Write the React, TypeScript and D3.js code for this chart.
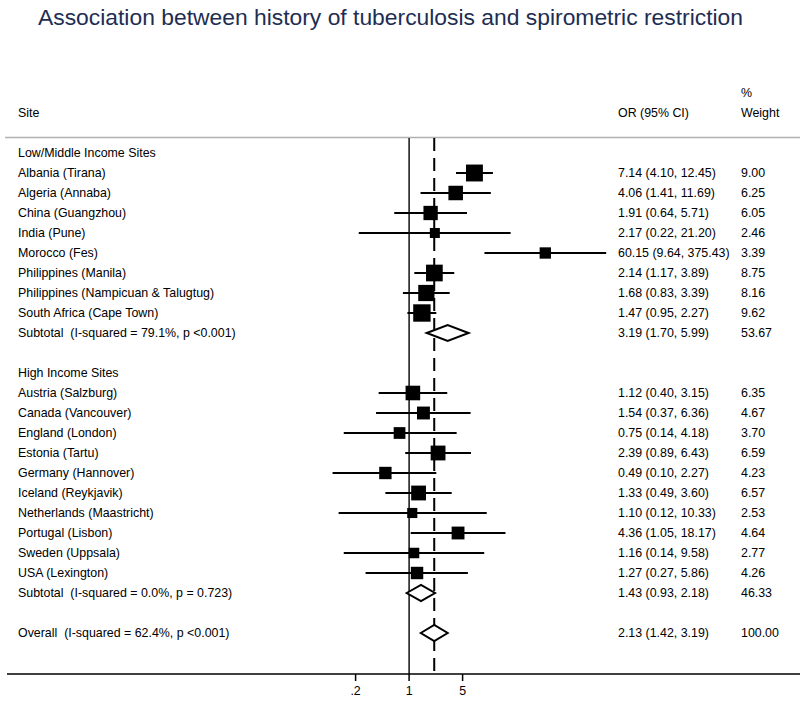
import React from "react";
import * as d3 from "d3";

const lowSites = [
  "Albania (Tirana)",
  "Algeria (Annaba)",
  "China (Guangzhou)",
  "India (Pune)",
  "Morocco (Fes)",
  "Philippines (Manila)",
  "Philippines (Nampicuan & Talugtug)",
  "South Africa (Cape Town)",
];
const lowOR = [7.14, 4.06, 1.91, 2.17, 60.15, 2.14, 1.68, 1.47];
const lowLo = [4.1, 1.41, 0.64, 0.22, 9.64, 1.17, 0.83, 0.95];
const lowHi = [12.45, 11.69, 5.71, 21.2, 375.43, 3.89, 3.39, 2.27];
const lowW = [9.0, 6.25, 6.05, 2.46, 3.39, 8.75, 8.16, 9.62];

const highSites = [
  "Austria (Salzburg)",
  "Canada (Vancouver)",
  "England (London)",
  "Estonia (Tartu)",
  "Germany (Hannover)",
  "Iceland (Reykjavik)",
  "Netherlands (Maastricht)",
  "Portugal (Lisbon)",
  "Sweden (Uppsala)",
  "USA (Lexington)",
];
const highOR = [1.12, 1.54, 0.75, 2.39, 0.49, 1.33, 1.1, 4.36, 1.16, 1.27];
const highLo = [0.4, 0.37, 0.14, 0.89, 0.1, 0.49, 0.12, 1.05, 0.14, 0.27];
const highHi = [3.15, 6.36, 4.18, 6.43, 2.27, 3.6, 10.33, 18.17, 9.58, 5.86];
const highW = [6.35, 4.67, 3.7, 6.59, 4.23, 6.57, 2.53, 4.64, 2.77, 4.26];

const summaryLabels = [
  "Subtotal  (I-squared = 79.1%, p <0.001)",
  "Subtotal  (I-squared = 0.0%, p = 0.723)",
  "Overall  (I-squared = 62.4%, p <0.001)",
];
const summaryOR = [3.19, 1.43, 2.13];
const summaryLo = [1.7, 0.93, 1.42];
const summaryHi = [5.99, 2.18, 3.19];
const summaryW = [53.67, 46.33, 100.0];

const tickValues = [0.2, 1, 5];
const tickLabels = [".2", "1", "5"];

type Row =
  | { kind: "header"; label: string }
  | { kind: "study"; label: string; or: number; lo: number; hi: number; w: number }
  | { kind: "summary"; label: string; or: number; lo: number; hi: number; w: number }
  | { kind: "blank" };

const rows: Row[] = [];
rows.push({ kind: "header", label: "Low/Middle Income Sites" });
lowSites.forEach((s, i) =>
  rows.push({ kind: "study", label: s, or: lowOR[i], lo: lowLo[i], hi: lowHi[i], w: lowW[i] })
);
rows.push({ kind: "summary", label: summaryLabels[0], or: summaryOR[0], lo: summaryLo[0], hi: summaryHi[0], w: summaryW[0] });
rows.push({ kind: "blank" });
rows.push({ kind: "header", label: "High Income Sites" });
highSites.forEach((s, i) =>
  rows.push({ kind: "study", label: s, or: highOR[i], lo: highLo[i], hi: highHi[i], w: highW[i] })
);
rows.push({ kind: "summary", label: summaryLabels[1], or: summaryOR[1], lo: summaryLo[1], hi: summaryHi[1], w: summaryW[1] });
rows.push({ kind: "blank" });
rows.push({ kind: "summary", label: summaryLabels[2], or: summaryOR[2], lo: summaryLo[2], hi: summaryHi[2], w: summaryW[2] });

const fmt = d3.format(".2f");

export default function App() {
  const W = 800;
  const H = 705;
  const x = d3.scaleLog().domain([0.2, 5]).range([355.6, 462.6]);
  const y = d3
    .scaleLinear()
    .domain([0, rows.length - 1])
    .range([153, 153 + 20 * (rows.length - 1)]);
  const plotTop = 138;
  const axisY = 674;
  const font = "Liberation Sans, Arial, Helvetica, sans-serif";
  const fs = 12.4;
  const overall = summaryOR[2];
  const boxSide = (w: number) => 4.8 * Math.sqrt(w) + 2.5;
  const pre = { whiteSpace: "pre" as const };

  return (
    <svg
      width={W}
      height={H}
      style={{ position: "absolute", left: 0, top: 0, display: "block", background: "#fff" }}
      fontFamily={font}
    >
      <rect x={0} y={0} width={W} height={H} fill="#fff" />
      <text
        x={38}
        y={25}
        fontSize={22.5}
        fill="#1e2d52"
        textLength={705}
        lengthAdjust="spacingAndGlyphs"
      >
        Association between history of tuberculosis and spirometric restriction
      </text>

      {/* column headers */}
      <text x={18} y={117} fontSize={fs} fill="#000">Site</text>
      <text x={618} y={117} fontSize={fs} fill="#000">OR (95% CI)</text>
      <text x={741} y={97} fontSize={fs} fill="#000">%</text>
      <text x={741} y={117} fontSize={fs} fill="#000">Weight</text>
      <line x1={5} x2={800} y1={137.5} y2={137.5} stroke="#b0b0b0" strokeWidth={1.5} />

      {/* null line */}
      <line x1={x(1)} x2={x(1)} y1={plotTop} y2={axisY} stroke="#000" strokeWidth={1.4} />
      {/* overall dashed line */}
      <line
        x1={x(overall)}
        x2={x(overall)}
        y1={plotTop}
        y2={axisY}
        stroke="#000"
        strokeWidth={2}
        strokeDasharray="13,7"
      />

      {rows.map((r, i) => {
        const yy = y(i);
        if (r.kind === "blank") return null;
        if (r.kind === "header")
          return (
            <text key={i} x={18} y={yy + 4.4} fontSize={fs} fill="#000">
              {r.label}
            </text>
          );
        const orText = `${fmt(r.or)} (${fmt(r.lo)}, ${fmt(r.hi)})`;
        const labels = (
          <g>
            <text x={18} y={yy + 4.4} fontSize={fs} fill="#000" style={pre}>{r.label}</text>
            <text x={618} y={yy + 4.4} fontSize={fs} fill="#000">{orText}</text>
            <text x={741} y={yy + 4.4} fontSize={fs} fill="#000">{fmt(r.w)}</text>
          </g>
        );
        if (r.kind === "study") {
          const s = boxSide(r.w);
          return (
            <g key={i}>
              <line x1={x(r.lo)} x2={x(r.hi)} y1={yy} y2={yy} stroke="#000" strokeWidth={2} />
              <rect x={x(r.or) - s / 2} y={yy - s / 2} width={s} height={s} fill="#000" />
              {labels}
            </g>
          );
        }
        const h = 8;
        const pts = [
          [x(r.lo), yy],
          [x(r.or), yy - h],
          [x(r.hi), yy],
          [x(r.or), yy + h],
        ];
        return (
          <g key={i}>
            <polygon
              points={pts.map((p) => p.join(",")).join(" ")}
              fill="#fff"
              stroke="#000"
              strokeWidth={2}
            />
            {labels}
          </g>
        );
      })}

      {/* x axis */}
      <line x1={7} x2={800} y1={axisY} y2={axisY} stroke="#000" strokeWidth={1.5} />
      {tickValues.map((t, i) => (
        <g key={t}>
          <line x1={x(t)} x2={x(t)} y1={axisY} y2={axisY + 7} stroke="#000" strokeWidth={1.5} />
          <text x={x(t)} y={axisY + 21} textAnchor="middle" fontSize={fs} fill="#000">
            {tickLabels[i]}
          </text>
        </g>
      ))}
    </svg>
  );
}
